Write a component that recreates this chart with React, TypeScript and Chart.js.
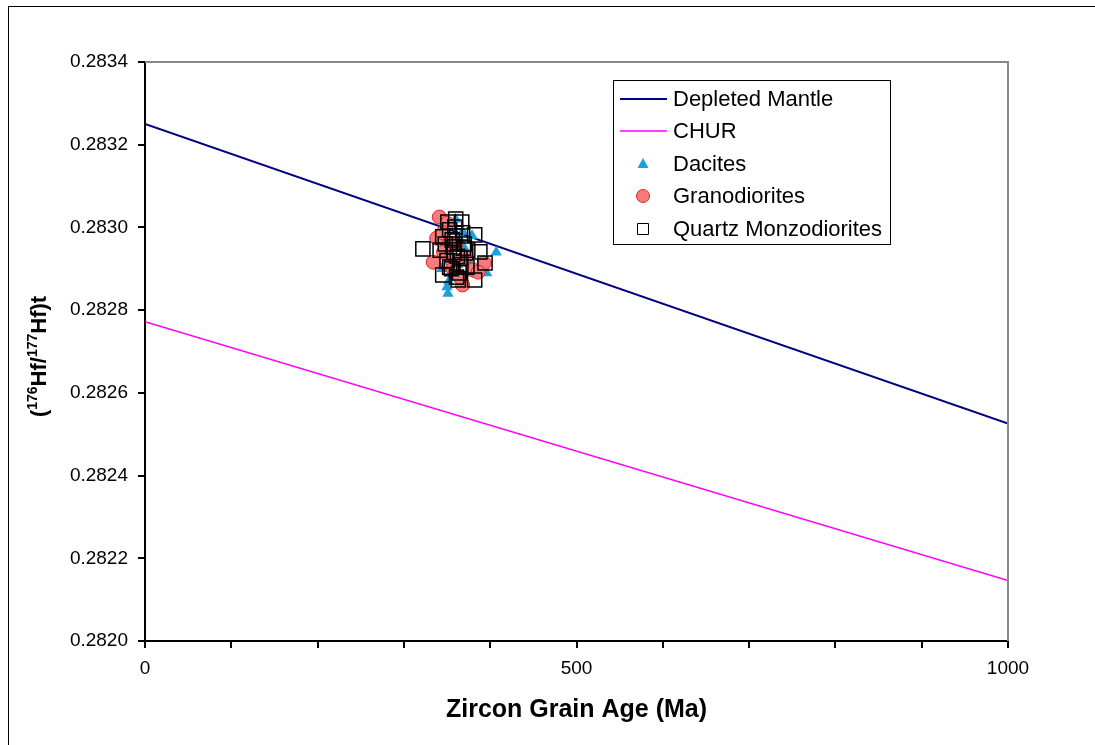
import React, { useEffect, useRef } from "react";
import { Chart, registerables } from "chart.js";

Chart.register(...registerables);

const FONT = "'Liberation Sans', Arial, sans-serif";

const lineAges = [0, 1000];
const depletedMantle = [0.28325, 0.282526];
const chur = [0.282772, 0.282146];

const daciteAges = [407, 396, 351, 350, 379, 344, 365, 355, 360, 370, 348, 362, 358, 375, 368, 352];
const daciteHf = [0.28294, 0.28289, 0.28284, 0.282856, 0.28298, 0.2829, 0.28297, 0.28293, 0.28302, 0.28295, 0.28296, 0.28291, 0.28288, 0.28292, 0.28299, 0.28287];

const granoAges = [341, 350, 338, 334, 393, 380, 368, 345, 350, 386, 355, 360, 346, 365, 357, 372];
const granoHf = [0.283025, 0.28301, 0.282974, 0.282916, 0.282914, 0.282897, 0.282861, 0.282987, 0.282953, 0.282892, 0.28292, 0.28296, 0.28294, 0.28288, 0.28290, 0.28293];

const qmdAges = [322, 351, 367, 359, 382, 388, 394, 382, 361, 345, 342, 345, 368, 365, 353, 373, 357, 374, 353, 363, 360, 370, 350, 356, 366, 358, 362, 355, 369, 348, 364, 359];
const qmdHf = [0.282948, 0.283013, 0.283013, 0.283001, 0.282982, 0.282941, 0.282914, 0.282873, 0.28288, 0.282885, 0.282945, 0.282977, 0.282987, 0.282926, 0.282904, 0.282904, 0.282953, 0.282945, 0.282994, 0.282873, 0.28302, 0.28296, 0.28292, 0.28297, 0.28291, 0.28294, 0.28293, 0.28290, 0.28295, 0.28296, 0.28289, 0.28298];

const xTicksShown = [0, 500, 1000];

const pts = (xs: number[], ys: number[]) => xs.map((x, i) => ({ x, y: ys[i] }));

const framePlugin = {
  id: "frame",
  beforeDraw(chart: any) {
    const ctx = chart.ctx;
    ctx.save();
    ctx.fillStyle = "#fff";
    ctx.fillRect(0, 0, chart.width, chart.height);
    ctx.strokeStyle = "#000";
    ctx.lineWidth = 1;
    ctx.strokeRect(8.5, 6.5, 1300, 1300);
    ctx.restore();
  },
  afterDatasetsDraw(chart: any) {
    const { ctx, chartArea: a } = chart;
    ctx.save();
    ctx.strokeStyle = "#888";
    ctx.lineWidth = 2;
    ctx.beginPath();
    ctx.moveTo(a.left, a.top);
    ctx.lineTo(a.right, a.top);
    ctx.lineTo(a.right, a.bottom);
    ctx.stroke();
    ctx.restore();
  },
  afterDraw(chart: any) {
    const { ctx, chartArea: a } = chart;
    ctx.save();
    // y axis title with superscripts
    const cy = (a.top + a.bottom) / 2 + 5;
    ctx.translate(39, cy);
    ctx.rotate(-Math.PI / 2);
    const parts: [string, boolean][] = [["(", false], ["176", true], ["Hf/", false], ["177", true], ["Hf)t", false]];
    const big = `bold 22px ${FONT}`;
    const small = `bold 14px ${FONT}`;
    let total = 0;
    for (const [t, sup] of parts) {
      ctx.font = sup ? small : big;
      total += ctx.measureText(t).width;
    }
    let x = -total / 2;
    ctx.fillStyle = "#000";
    ctx.textBaseline = "middle";
    ctx.textAlign = "left";
    for (const [t, sup] of parts) {
      ctx.font = sup ? small : big;
      ctx.fillText(t, x, sup ? -6 : 1);
      x += ctx.measureText(t).width;
    }
    ctx.restore();

    // legend
    ctx.save();
    const bx = 613, by = 80, bw = 277, bh = 164;
    ctx.fillStyle = "#fff";
    ctx.fillRect(bx, by, bw, bh);
    ctx.strokeStyle = "#000";
    ctx.lineWidth = 1;
    ctx.strokeRect(bx + 0.5, by + 0.5, bw, bh);
    const rowY = [99, 131, 164, 196, 229];
    const order = [0, 1, 2, 3, 4];
    ctx.font = `22px ${FONT}`;
    ctx.textBaseline = "middle";
    order.forEach((di, r) => {
      const ds = chart.data.datasets[di];
      const y = rowY[r];
      if (ds.showLine) {
        ctx.strokeStyle = ds.borderColor;
        ctx.lineWidth = ds.borderWidth;
        ctx.beginPath();
        ctx.moveTo(620, y);
        ctx.lineTo(667, y);
        ctx.stroke();
      } else {
        ctx.beginPath();
        const cx = 643;
        if (ds.pointStyle === "triangle") {
          ctx.fillStyle = ds.backgroundColor;
          ctx.moveTo(cx, y - 6);
          ctx.lineTo(cx + 5.5, y + 4);
          ctx.lineTo(cx - 5.5, y + 4);
          ctx.closePath();
          ctx.fill();
        } else if (ds.pointStyle === "circle") {
          ctx.fillStyle = ds.backgroundColor;
          ctx.strokeStyle = ds.borderColor;
          ctx.lineWidth = 1;
          ctx.arc(cx, y, 6.5, 0, Math.PI * 2);
          ctx.fill();
          ctx.stroke();
        } else {
          ctx.fillStyle = "#fff";
          ctx.strokeStyle = "#000";
          ctx.lineWidth = 1;
          ctx.rect(cx - 5.5, y - 5.5, 11, 11);
          ctx.fill();
          ctx.stroke();
        }
      }
      ctx.fillStyle = "#000";
      ctx.fillText(ds.label, 673, y + 1);
    });
    ctx.restore();
  },
};

export default function App() {
  const ref = useRef<HTMLCanvasElement>(null);
  useEffect(() => {
    if (!ref.current) return;
    const chart = new Chart(ref.current, {
      type: "scatter",
      data: {
        datasets: [
          {
            label: "Depleted Mantle",
            data: pts(lineAges, depletedMantle),
            showLine: true,
            borderColor: "#000080",
            backgroundColor: "#000080",
            borderWidth: 2,
            pointRadius: 0,
            order: 5,
          } as any,
          {
            label: "CHUR",
            data: pts(lineAges, chur),
            showLine: true,
            borderColor: "#ff00ff",
            backgroundColor: "#ff00ff",
            borderWidth: 1.5,
            pointRadius: 0,
            order: 4,
          },
          {
            label: "Dacites",
            data: pts(daciteAges, daciteHf),
            pointStyle: "triangle",
            pointRadius: 6.5,
            backgroundColor: "#1ba1dd",
            borderColor: "#1ba1dd",
            borderWidth: 0,
            order: 3,
          },
          {
            label: "Granodiorites",
            data: pts(granoAges, granoHf),
            pointStyle: "circle",
            pointRadius: 7,
            backgroundColor: "#f47c7c",
            borderColor: "#e02828",
            borderWidth: 1,
            order: 2,
          },
          {
            label: "Quartz Monzodiorites",
            data: pts(qmdAges, qmdHf),
            pointStyle: "rect",
            pointRadius: 10,
            backgroundColor: "rgba(0,0,0,0)",
            borderColor: "#000",
            borderWidth: 1.5,
            order: 1,
          },
        ],
      },
      options: {
        animation: false,
        responsive: false,
        maintainAspectRatio: false,
        events: [],
        layout: { padding: { top: 62, right: 87, left: 0, bottom: 0 } },
        plugins: { legend: { display: false }, tooltip: { enabled: false } },
        scales: {
          x: {
            type: "linear",
            min: 0,
            max: 1000,
            afterFit: (s: any) => {
              s.height = 104;
            },
            afterBuildTicks: (s: any) => {
              const t = [];
              for (let v = 0; v <= 1000; v += 100) t.push({ value: v });
              s.ticks = t;
            },
            ticks: {
              autoSkip: false,
              maxRotation: 0,
              padding: 9,
              color: "#000",
              font: { family: FONT, size: 19 },
              callback: (v: any) => (xTicksShown.includes(Number(v)) ? String(v) : ""),
            },
            grid: { drawOnChartArea: false, drawTicks: true, tickLength: 7, color: "#000", lineWidth: 2 },
            border: { display: true, color: "#000", width: 2 },
            title: {
              display: true,
              text: "Zircon Grain Age (Ma)",
              color: "#000",
              font: { family: FONT, size: 25, weight: "bold" },
              padding: { top: 0, bottom: 20 },
            },
          },
          y: {
            type: "linear",
            min: 0.282,
            max: 0.2834,
            afterFit: (s: any) => {
              s.width = 145;
            },
            afterBuildTicks: (s: any) => {
              const t = [];
              for (let i = 0; i <= 7; i++) t.push({ value: 0.282 + i * 0.0002 });
              s.ticks = t;
            },
            ticks: {
              padding: 10,
              color: "#000",
              font: { family: FONT, size: 19 },
              callback: (v: any) => Number(v).toFixed(4),
            },
            grid: { drawOnChartArea: false, drawTicks: true, tickLength: 7, color: "#000", lineWidth: 2 },
            border: { display: true, color: "#000", width: 2 },
          },
        },
      },
      plugins: [framePlugin],
    } as any);
    return () => chart.destroy();
  }, []);
  return (
    <div style={{ position: "absolute", left: 0, top: 0, width: 1095, height: 745 }}>
      <canvas ref={ref} width={1095} height={745} style={{ display: "block" }} />
    </div>
  );
}
